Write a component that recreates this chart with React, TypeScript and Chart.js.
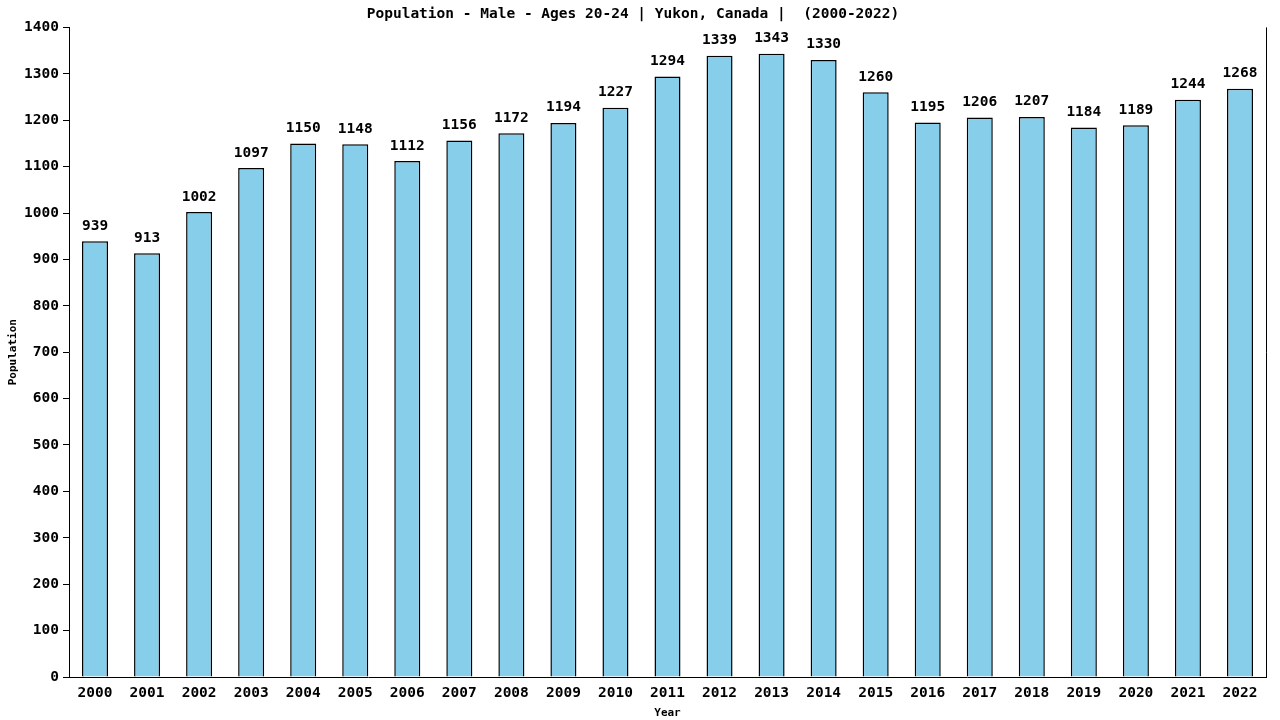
import React, { useEffect, useRef } from 'react';
import { Chart, ChartConfiguration, Plugin, registerables } from 'chart.js';

Chart.register(...registerables);

const years = [
  '2000', '2001', '2002', '2003', '2004', '2005', '2006', '2007', '2008', '2009', '2010', '2011',
  '2012', '2013', '2014', '2015', '2016', '2017', '2018', '2019', '2020', '2021', '2022'
];

const population = [
  939, 913, 1002, 1097, 1150, 1148, 1112, 1156, 1172, 1194, 1227, 1294,
  1339, 1343, 1330, 1260, 1195, 1206, 1207, 1184, 1189, 1244, 1268
];

const FONT = '"DejaVu Sans Mono", monospace';

// value labels above each bar + right border line
const extras: Plugin<'bar'> = {
  id: 'extras',
  afterDatasetsDraw(chart) {
    const { ctx, chartArea } = chart;
    const meta = chart.getDatasetMeta(0);
    ctx.save();
    ctx.font = `bold 14.5px ${FONT}`;
    ctx.fillStyle = '#000';
    ctx.textAlign = 'center';
    ctx.textBaseline = 'bottom';
    meta.data.forEach((bar, i) => {
      ctx.fillText(String(population[i]), bar.x, bar.y - 8);
    });
    ctx.strokeStyle = '#000';
    ctx.lineWidth = 1;
    ctx.beginPath();
    ctx.moveTo(Math.round(chartArea.right) + 0.5, chartArea.top);
    ctx.lineTo(Math.round(chartArea.right) + 0.5, chartArea.bottom);
    ctx.stroke();
    ctx.restore();
  }
};

const PopulationChart: React.FC = () => {
  const chartRef = useRef<HTMLCanvasElement>(null);
  const chartInstanceRef = useRef<Chart | null>(null);

  useEffect(() => {
    if (!chartRef.current) return;
    const ctx = chartRef.current.getContext('2d');
    if (!ctx) return;

    const config: ChartConfiguration<'bar'> = {
      type: 'bar',
      data: {
        labels: years,
        datasets: [{
          data: population,
          backgroundColor: '#87CEEB',
          borderColor: '#000',
          borderWidth: 1.5,
          borderSkipped: 'start',
          categoryPercentage: 1,
          barPercentage: 0.5
        }]
      },
      options: {
        animation: false,
        responsive: false,
        devicePixelRatio: 1,
        layout: { padding: { top: 0, right: 14, bottom: 0, left: 0 } },
        plugins: {
          legend: { display: false },
          tooltip: { enabled: false },
          title: {
            display: true,
            text: 'Population - Male - Ages 20-24 | Yukon, Canada |  (2000-2022)',
            color: '#000',
            font: { family: FONT, size: 14.5, weight: 'bold' },
            padding: { top: 6, bottom: 4 }
          }
        },
        scales: {
          x: {
            grid: { display: false },
            border: { display: true, color: '#000' },
            ticks: { color: '#000', font: { family: FONT, size: 14.5, weight: 'bold' }, maxRotation: 0, padding: 0 },
            title: {
              display: true,
              text: 'Year',
              color: '#000',
              font: { family: FONT, size: 11, weight: 'bold' },
              padding: { top: 0, bottom: 0 }
            },
            afterFit: (s) => { s.height = 43; }
          },
          y: {
            min: 0,
            max: 1400,
            grid: { display: true, drawOnChartArea: false, drawTicks: true, tickLength: 6, color: '#000' },
            border: { display: true, color: '#000' },
            ticks: {
              stepSize: 100,
              color: '#000',
              font: { family: FONT, size: 14.5, weight: 'bold' },
              padding: 4,
              callback: (v) => String(v)
            },
            title: {
              display: true,
              text: 'Population',
              color: '#000',
              font: { family: FONT, size: 11, weight: 'bold' },
              padding: { top: 7, bottom: 0 }
            },
            afterFit: (s) => { s.width = 69; }
          }
        }
      },
      plugins: [extras]
    };

    chartInstanceRef.current = new Chart(ctx, config);

    return () => {
      if (chartInstanceRef.current) {
        chartInstanceRef.current.destroy();
        chartInstanceRef.current = null;
      }
    };
  }, []);

  return (
    <div style={{ position: 'absolute', left: 0, top: 0, width: 1280, height: 720, background: '#fff' }}>
      <canvas ref={chartRef} width={1280} height={720} />
    </div>
  );
};

export default function App() {
  return <PopulationChart />;
}
